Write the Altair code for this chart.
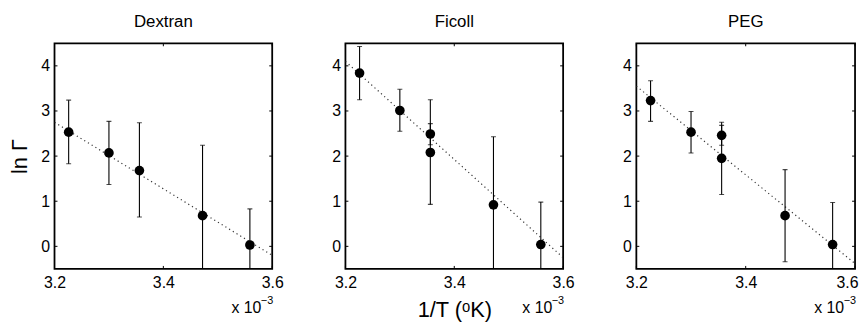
import altair as alt
import pandas as pd

# ---- data (x in units of 1e-3 1/K) ----
fit_x = [3.2, 3.6]
x_ticks = [3.2, 3.4, 3.6]
y_ticks = [0, 1, 2, 3, 4]

dextran_x = [3.226, 3.300, 3.356, 3.472, 3.559]
dextran_y = [2.53, 2.07, 1.68, 0.68, 0.03]
dextran_lo = [1.83, 1.37, 0.65, -0.89, -0.77]
dextran_hi = [3.24, 2.77, 2.74, 2.24, 0.83]
dextran_fit = [2.75, -0.20]

ficoll_x = [3.226, 3.300, 3.356, 3.356, 3.472, 3.559]
ficoll_y = [3.84, 3.01, 2.49, 2.08, 0.92, 0.04]
ficoll_lo = [3.25, 2.55, 2.25, 0.93, -0.59, -0.90]
ficoll_hi = [4.43, 3.48, 2.72, 3.25, 2.43, 0.98]
ficoll_fit = [4.10, -0.25]

peg_x = [3.226, 3.300, 3.356, 3.356, 3.472, 3.559]
peg_y = [3.23, 2.53, 2.46, 1.95, 0.68, 0.04]
peg_lo = [2.77, 2.07, 2.24, 1.15, -0.34, -0.90]
peg_hi = [3.67, 2.99, 2.68, 2.75, 1.70, 0.97]
peg_fit = [3.55, -0.38]

W, H = 220, 228
FONT = "Liberation Sans"

xscale = alt.Scale(domain=[3.2, 3.6], nice=False, zero=False)
yscale = alt.Scale(domain=[-0.5, 4.5], nice=False, zero=False)


def panel(name, xs, ys, lo, hi, fit, w=W, ytitle=None, xtitle=None,
          flush_last=False):
    df = pd.DataFrame({"x": xs, "y": ys, "lo": lo, "hi": hi})
    fdf = pd.DataFrame({"x": fit_x, "y": fit})
    xt = pd.DataFrame({"t": x_ticks})
    yt = pd.DataFrame({"t": y_ticks})
    one = pd.DataFrame({"k": [0]})

    xkw = {}
    if flush_last:
        xkw["labelAlign"] = alt.condition("datum.value > 3.55",
                                          alt.value("right"),
                                          alt.value("center"))
        xkw["labelOffset"] = alt.condition("datum.value > 3.55",
                                           alt.value(3), alt.value(0))
    xaxis = alt.Axis(values=x_ticks, format=".1f", ticks=False, domain=False,
                     grid=False, labelFlush=False, labelPadding=6,
                     labelFontSize=16, labelColor="black", title=xtitle,
                     titleFontSize=22, titleFontWeight="normal",
                     titleColor="black", titlePadding=9, **xkw)
    yaxis = alt.Axis(values=y_ticks, format="d", ticks=False, domain=False,
                     grid=False, labelFlush=False, labelPadding=5,
                     labelFontSize=16, labelColor="black", title=ytitle,
                     titleFontSize=22, titleFontWeight="normal",
                     titleColor="black", titlePadding=9)

    X = alt.X("x:Q", scale=xscale, axis=xaxis)
    Y = alt.Y("y:Q", scale=yscale, axis=yaxis)

    base = alt.Chart(df)
    fitline = alt.Chart(fdf).mark_line(
        strokeDash=[1.2, 3.2], color="#333333", strokeWidth=1.2, clip=True
    ).encode(x=X, y=Y)
    bars = base.mark_rule(color="black", strokeWidth=1.1, clip=True).encode(
        x=alt.X("x:Q", scale=xscale), y=alt.Y("lo:Q", scale=yscale), y2="hi:Q")
    cap_lo = base.mark_tick(orient="horizontal", size=5, thickness=1.1,
                            color="black", clip=True).encode(
        x=alt.X("x:Q", scale=xscale), y=alt.Y("lo:Q", scale=yscale))
    cap_hi = base.mark_tick(orient="horizontal", size=5, thickness=1.1,
                            color="black", clip=True).encode(
        x=alt.X("x:Q", scale=xscale), y=alt.Y("hi:Q", scale=yscale))
    pts = base.mark_circle(size=95, color="black", opacity=1).encode(
        x=alt.X("x:Q", scale=xscale), y=alt.Y("y:Q", scale=yscale))

    tb = alt.Chart(xt).mark_rule(color="black", strokeWidth=1).encode(
        x=alt.X("t:Q", scale=xscale), y=alt.value(H), y2=alt.value(H - 3))
    tt = alt.Chart(xt).mark_rule(color="black", strokeWidth=1).encode(
        x=alt.X("t:Q", scale=xscale), y=alt.value(0), y2=alt.value(3))
    tl = alt.Chart(yt).mark_rule(color="black", strokeWidth=1).encode(
        y=alt.Y("t:Q", scale=yscale), x=alt.value(0), x2=alt.value(3))
    tr = alt.Chart(yt).mark_rule(color="black", strokeWidth=1).encode(
        y=alt.Y("t:Q", scale=yscale), x=alt.value(w - 3), x2=alt.value(w))

    mult = alt.Chart(one).mark_text(align="right", baseline="alphabetic",
                                    fontSize=16, fontWeight="normal",
                                    color="black", font=FONT).encode(
        x=alt.value(w - 11), y=alt.value(H + 45), text=alt.value("x 10"))
    sup = alt.Chart(one).mark_text(align="right", baseline="alphabetic",
                                   fontSize=11, fontWeight="normal",
                                   color="black", font=FONT).encode(
        x=alt.value(w + 1), y=alt.value(H + 35), text=alt.value("\u22123"))

    return alt.layer(fitline, bars, cap_lo, cap_hi, pts, tb, tt, tl, tr,
                     mult, sup).properties(
        width=w, height=H,
        title=alt.TitleParams(name, fontSize=17, fontWeight="normal",
                              color="black", font=FONT, offset=12))


p1 = panel("Dextran", dextran_x, dextran_y, dextran_lo, dextran_hi,
           dextran_fit, ytitle="ln \u0393")
p2 = panel("Ficoll", ficoll_x, ficoll_y, ficoll_lo, ficoll_hi, ficoll_fit,
           xtitle="1/T (\u1d52K)")
p3 = panel("PEG", peg_x, peg_y, peg_lo, peg_hi, peg_fit, w=221,
           flush_last=True)

chart = alt.hconcat(p1, p2, p3, spacing=46).properties(
    padding={"left": 0, "top": 2, "right": 0, "bottom": 0}
).configure(font=FONT).configure_view(stroke="black", strokeWidth=1.8)

chart.save("out.html", embed_options={"renderer": "svg", "actions": False})
